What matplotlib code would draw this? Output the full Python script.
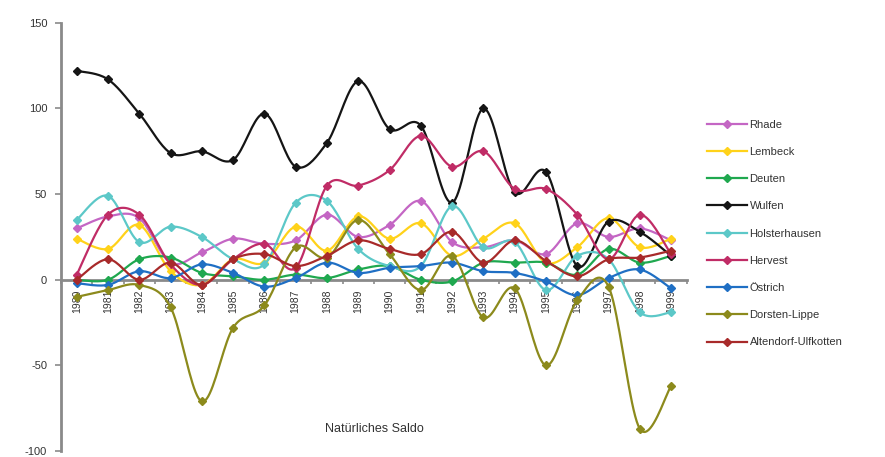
import numpy as np
import matplotlib
matplotlib.use("Agg")
import matplotlib.pyplot as plt
from matplotlib.lines import Line2D

plt.rcParams['font.family'] = ['Liberation Sans', 'DejaVu Sans']

# Jahre (Kategorien)
years = ['1980', '1981', '1982', '1983', '1984', '1985', '1986', '1987', '1988', '1989',
         '1990', '1991', '1992', '1993', '1994', '1995', '1996', '1997', '1998', '1999']

# Natürliches Saldo je Stadtteil
rhade = [30, 37, 36, 10, 16, 24, 21, 23, 38, 25, 32, 46, 22, 19, 23, 15, 33, 25, 30, 23]
lembeck = [24, 18, 32, 5, -3, 12, 10, 31, 17, 37, 24, 33, 14, 24, 33, 10, 19, 36, 19, 24]
deuten = [0, 0, 12, 13, 4, 2, 0, 3, 1, 6, 8, 0, -1, 10, 10, 10, 3, 18, 10, 14]
wulfen = [122, 117, 97, 74, 75, 70, 97, 66, 80, 116, 88, 90, 45, 100, 51, 63, 8, 34, 28, 14]
holsterhausen = [35, 49, 22, 31, 25, 12, 9, 45, 46, 18, 8, 8, 43, 19, 22, -6, 14, 12, -19, -19]
hervest = [3, 38, 38, 9, -3, 12, 21, 7, 55, 55, 64, 84, 66, 75, 53, 53, 38, 12, 38, 15]
oestrich = [-2, -3, 5, 1, 9, 4, -4, 1, 10, 4, 7, 8, 10, 5, 4, -1, -9, 1, 6, -5]
dorsten_lippe = [-10, -6, -3, -16, -71, -28, -15, 19, 13, 35, 15, -6, 14, -22, -5, -50, -12, -4, -87, -62]
altendorf = [0, 12, 0, 10, -3, 12, 15, 8, 14, 23, 18, 15, 28, 10, 23, 11, 2, 12, 13, 17]

series = [
    ('Rhade', rhade, '#c466c4'),
    ('Lembeck', lembeck, '#ffd21a'),
    ('Deuten', deuten, '#1fa84f'),
    ('Wulfen', wulfen, '#151515'),
    ('Holsterhausen', holsterhausen, '#5cc8c8'),
    ('Hervest', hervest, '#c02c66'),
    ('Östrich', oestrich, '#1f6fc4'),
    ('Dorsten-Lippe', dorsten_lippe, '#8c8a1c'),
    ('Altendorf-Ulfkotten', altendorf, '#a82a2a'),
]


def smooth(x, y, n=20):
    """Catmull-Rom curve through the points (like spreadsheet 'smoothed lines')."""
    x = np.asarray(x, float)
    y = np.asarray(y, float)
    px = np.concatenate([[x[0]], x, [x[-1]]])
    py = np.concatenate([[y[0]], y, [y[-1]]])
    xs, ys = [], []
    t = np.linspace(0, 1, n, endpoint=False)
    for i in range(1, len(x)):
        p0x, p1x, p2x, p3x = px[i - 1], px[i], px[i + 1], px[i + 2]
        p0y, p1y, p2y, p3y = py[i - 1], py[i], py[i + 1], py[i + 2]
        b0 = -0.5 * t ** 3 + t ** 2 - 0.5 * t
        b1 = 1.5 * t ** 3 - 2.5 * t ** 2 + 1
        b2 = -1.5 * t ** 3 + 2 * t ** 2 + 0.5 * t
        b3 = 0.5 * t ** 3 - 0.5 * t ** 2
        xs.append(b0 * p0x + b1 * p1x + b2 * p2x + b3 * p3x)
        ys.append(b0 * p0y + b1 * p1y + b2 * p2y + b3 * p3y)
    xs.append([x[-1]])
    ys.append([y[-1]])
    return np.concatenate(xs), np.concatenate(ys)


fig = plt.figure(figsize=(8.85, 4.57), dpi=100)
ax = fig.add_axes([0.069, 0.013, 0.707, 0.937])

xpos = np.arange(len(years))
handles = []
for k, (name, vals, col) in enumerate(series):
    sx, sy = smooth(xpos, vals)
    ax.plot(sx, sy, color=col, lw=1.6, zorder=3 + k, solid_capstyle='round')
    ax.plot(xpos, vals, linestyle='none', marker='D', ms=4, color=col, zorder=3 + k)
    handles.append(Line2D([], [], color=col, lw=1.6, marker='D', ms=4))

ax.set_xlim(-0.5, len(years) - 0.5)
ax.set_ylim(-100, 150)
ax.set_yticks([-100, -50, 0, 50, 100, 150])
ax.set_yticklabels(['-100', '-50', '0', '50', '100', '150'])

ax.spines['top'].set_visible(False)
ax.spines['right'].set_visible(False)
ax.spines['left'].set_color('#8a8a8a')
ax.spines['left'].set_linewidth(2)
ax.spines['bottom'].set_position(('data', 0))
ax.spines['bottom'].set_color('#8a8a8a')
ax.spines['bottom'].set_linewidth(2)
ax.spines['bottom'].set_zorder(2)

ax.tick_params(axis='y', direction='out', length=4, width=1.2, color='#8a8a8a',
               labelsize=8, labelcolor='#333333', pad=6)

# Category labels under the zero line, ticks between categories
ax.set_xticks(xpos)
ax.set_xticklabels(years, rotation=90, fontsize=7.5, color='#333333')
ax.tick_params(axis='x', which='major', length=0, pad=7)
ax.set_xticks(np.arange(-0.5, len(years), 1.0), minor=True)
ax.tick_params(axis='x', which='minor', direction='out', length=3, width=1.2, color='#8a8a8a')

ax.text(0.5, 0.052, 'Natürliches Saldo', transform=ax.transAxes, ha='center', va='center',
        fontsize=9, color='#333333')

fig.legend(handles, [s[0] for s in series], loc='upper left', bbox_to_anchor=(0.788, 0.76),
           frameon=False, fontsize=8, handlelength=3.6, handletextpad=0.2,
           labelspacing=1.55, labelcolor='#333333')

fig.savefig('out.png', dpi=100, facecolor='white')
